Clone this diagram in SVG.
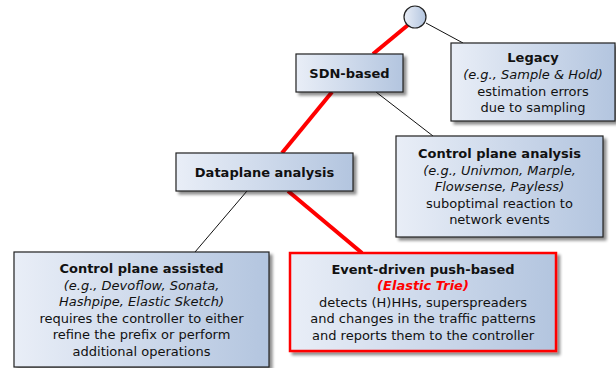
<svg xmlns="http://www.w3.org/2000/svg" width="616" height="368" viewBox="0 0 616 368">
<defs>
<linearGradient id="g" x1="0" y1="0" x2="1" y2="0">
<stop offset="0" stop-color="#e9eef7"/>
<stop offset="1" stop-color="#b3c5df"/>
</linearGradient>
<filter id="sh" x="-10%" y="-10%" width="125%" height="130%">
<feGaussianBlur in="SourceAlpha" stdDeviation="1.5"/>
<feOffset dx="3" dy="3" result="b"/>
<feComponentTransfer><feFuncA type="linear" slope="0.45"/></feComponentTransfer>
<feMerge><feMergeNode/><feMergeNode in="SourceGraphic"/></feMerge>
</filter>
</defs>
<style>
.box{fill:url(#g);stroke:#222;stroke-width:1.2;filter:url(#sh)}
.hl{stroke:#f00;stroke-width:2.5}
text{font-family:"DejaVu Sans",sans-serif;font-size:13px;fill:#111;text-anchor:middle}
.b{font-weight:bold}
.i{font-style:italic}
.r{fill:#f00;font-weight:bold;font-style:italic}
.thin{stroke:#111;stroke-width:1;fill:none}
.red{stroke:#f00;stroke-width:4;fill:none}
</style>
<g id="connectors">
<line class="red" x1="408" y1="25" x2="373" y2="54"/>
<line class="red" x1="332" y1="92" x2="282" y2="153"/>
<line class="red" x1="288" y1="191" x2="362" y2="253"/>
<line class="thin" x1="426" y1="23" x2="463" y2="43"/>
<line class="thin" x1="376" y1="92" x2="433" y2="136"/>
<line class="thin" x1="247" y1="191" x2="195" y2="252"/>
</g>
<g id="root">
<circle cx="415" cy="17" r="11" fill="url(#g)" stroke="#222" stroke-width="1.2"/>
</g>
<g id="sdn">
<rect class="box" x="296" y="54" width="107" height="38"/>
<text class="b" x="349.5" y="78">SDN-based</text>
</g>
<g id="legacy">
<rect class="box" x="451" y="43" width="164" height="78"/>
<text class="b" x="533" y="62">Legacy</text>
<text class="i" x="533" y="79">(e.g., Sample &amp; Hold)</text>
<text x="533" y="96">estimation errors</text>
<text x="533" y="112">due to sampling</text>
</g>
<g id="dataplane">
<rect class="box" x="176" y="153" width="177" height="38"/>
<text class="b" x="264.5" y="177">Dataplane analysis</text>
</g>
<g id="cpanalysis">
<rect class="box" x="396" y="136" width="207" height="101"/>
<text class="b" x="499.5" y="158">Control plane analysis</text>
<text class="i" x="499.5" y="175">(e.g., Univmon, Marple,</text>
<text class="i" x="499.5" y="191">Flowsense, Payless)</text>
<text x="499.5" y="208">suboptimal reaction to</text>
<text x="499.5" y="224">network events</text>
</g>
<g id="cpassisted">
<rect class="box" x="14" y="252" width="255" height="115"/>
<text class="b" x="141.5" y="273">Control plane assisted</text>
<text class="i" x="141.5" y="290">(e.g., Devoflow, Sonata,</text>
<text class="i" x="141.5" y="306">Hashpipe, Elastic Sketch)</text>
<text x="141.5" y="323">requires the controller to either</text>
<text x="141.5" y="339">refine the prefix or perform</text>
<text x="141.5" y="356">additional operations</text>
</g>
<g id="eventdriven">
<rect class="box hl" x="290" y="253" width="266" height="98"/>
<text class="b" x="423" y="274">Event-driven push-based</text>
<text class="r" x="423" y="290">(Elastic Trie)</text>
<text x="423" y="307">detects (H)HHs, superspreaders</text>
<text x="423" y="323">and changes in the traffic patterns</text>
<text x="423" y="340">and reports them to the controller</text>
</g>
</svg>
